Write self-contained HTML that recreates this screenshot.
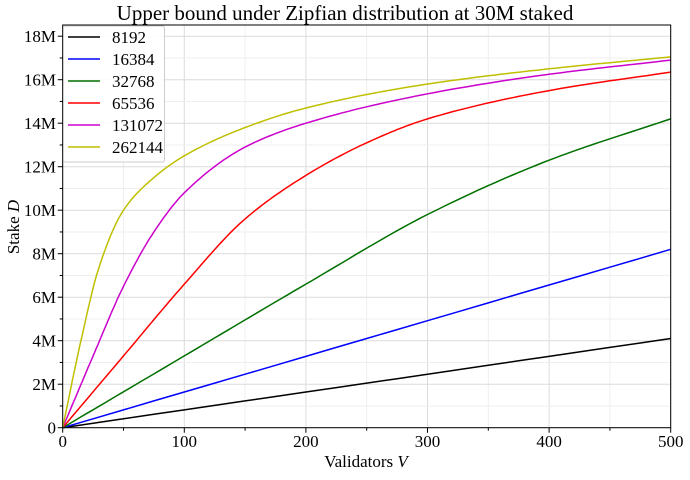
<!DOCTYPE html>
<html><head><style>
body{margin:0;background:#fff}
svg text{font-family:"Liberation Serif",serif;fill:#000}
</style></head><body>
<svg id="s" width="690" height="475" xmlns="http://www.w3.org/2000/svg">
<rect width="690" height="475" fill="#fff"/>
<g id="grid"></g>
<g id="curves" fill="none" stroke-width="1.5"></g>
<rect x="62.7" y="25" width="608" height="402.7" fill="none" stroke="#000" stroke-width="1"/>
<g id="ticks"></g>
<text x="345" y="20" font-size="21" text-anchor="middle">Upper bound under Zipfian distribution at 30M staked</text>
<text x="366" y="467" font-size="17" text-anchor="middle">Validators <tspan font-style="italic">V</tspan></text>
<text transform="translate(19,227) rotate(-90)" font-size="17" text-anchor="middle">Stake <tspan font-style="italic">D</tspan></text>
<g>
<rect x="63.5" y="26" width="101" height="136" fill="#fff" fill-opacity="0.85" stroke="#ccc" rx="2"/>
<g id="leg" font-size="17"></g>
</g>
</svg>
<script>
const X=v=>62.7+v*1.216, Y=m=>427.7-m*21.75;
const ns="http://www.w3.org/2000/svg";
function el(p,t,a){const e=document.createElementNS(ns,t);for(const k in a)e.setAttribute(k,a[k]);p.appendChild(e);return e;}
const g=document.getElementById('grid'),tk=document.getElementById('ticks');
for(let v=0;v<=500;v+=50){const x=X(v),maj=v%100==0;
 el(g,'line',{x1:x,x2:x,y1:25,y2:427.7,stroke:maj?'#dcdcdc':'#efefef','stroke-width':1});
 el(tk,'line',{x1:x,x2:x,y1:427.7,y2:427.7+(maj?5:3),stroke:'#000'});
 if(maj){const t=el(tk,'text',{x:x,y:447,'font-size':17,'text-anchor':'middle'});t.textContent=v;}}
for(let m=0;m<=18;m++){const y=Y(m),maj=m%2==0;
 el(g,'line',{x1:62.7,x2:670.7,y1:y,y2:y,stroke:maj?'#dcdcdc':'#efefef','stroke-width':1});
 el(tk,'line',{x1:62.7,x2:62.7-(maj?5:3),y1:y,y2:y,stroke:'#000'});
 if(maj){const t=el(tk,'text',{x:56,y:y+6,'font-size':17,'text-anchor':'end'});t.textContent=m==0?'0':m+'M';}}
const data=[
['#000',[[0,0],[500,4.1]]],
['#00f',[[0,0],[500,8.2]]],
['#007000',[[0,0],[100,3.3],[200,6.6],[300,9.8],[400,12.3],[500,14.2]]],
['#f00',[[0,0],[50,3.3],[100,6.6],[150,9.6],[200,11.6],[250,13.1],[300,14.2],[400,15.5],[500,16.35]]],
['#c0c',[[0,0],[25,3.3],[50,6.5],[75,9.0],[100,10.8],[150,12.9],[200,14.0],[300,15.35],[400,16.25],[500,16.9]]],
['#bfbf00',[[0,0],[15,4.0],[30,7.4],[50,10.0],[75,11.5],[100,12.5],[150,13.8],[200,14.7],[300,15.8],[400,16.5],[500,17.05]]]];
function mono(p){const n=p.length,xs=p.map(q=>q[0]),ys=p.map(q=>q[1]);
 const dl=[],m=[];for(let i=0;i<n-1;i++)dl.push((ys[i+1]-ys[i])/(xs[i+1]-xs[i]));
 m[0]=dl[0];m[n-1]=dl[n-2];
 for(let i=1;i<n-1;i++){if(dl[i-1]*dl[i]<=0)m[i]=0;else{const w1=2*(xs[i+1]-xs[i])+(xs[i]-xs[i-1]),w2=(xs[i+1]-xs[i])+2*(xs[i]-xs[i-1]);m[i]=(w1+w2)/(w1/dl[i-1]+w2/dl[i]);}}
 let d='M'+X(xs[0])+','+Y(ys[0]);
 for(let i=0;i<n-1;i++){const h=xs[i+1]-xs[i];
  for(let s=1;s<=20;s++){const t=s/20,h00=2*t*t*t-3*t*t+1,h10=t*t*t-2*t*t+t,h01=-2*t*t*t+3*t*t,h11=t*t*t-t*t;
   const x=xs[i]+t*h,y=h00*ys[i]+h10*h*m[i]+h01*ys[i+1]+h11*h*m[i+1];
   d+=' L'+X(x).toFixed(1)+','+Y(y).toFixed(1);}}
 return d;}
const c=document.getElementById('curves');
data.forEach(([col,p])=>el(c,'path',{d:mono(p),stroke:col}));
const lg=document.getElementById('leg');
['8192','16384','32768','65536','131072','262144'].forEach((n,i)=>{const y=37+i*22;
 el(lg,'line',{x1:68,x2:100,y1:y,y2:y,stroke:data[i][0],'stroke-width':1.5});
 const t=el(lg,'text',{x:112,y:y+6});t.textContent=n;});
</script>
</body></html>
